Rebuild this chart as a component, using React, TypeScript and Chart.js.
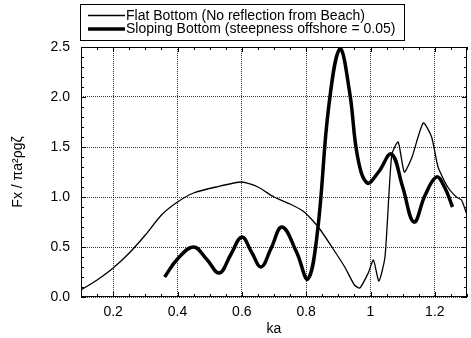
import React, { useEffect, useRef } from "react";
import { Chart, registerables } from "chart.js";

Chart.register(...registerables);

const kaFlat = [0.1, 0.15, 0.2, 0.25, 0.3, 0.35, 0.4, 0.45, 0.52, 0.6, 0.65, 0.7, 0.75, 0.79, 0.81, 0.84, 0.88, 0.92, 0.95, 0.967, 0.993, 1.009, 1.026, 1.045, 1.066, 1.086, 1.105, 1.128, 1.164, 1.19, 1.21, 1.24, 1.267, 1.283, 1.3];
const fFlat = [0.07, 0.17, 0.29, 0.44, 0.62, 0.82, 0.95, 1.04, 1.1, 1.15, 1.1, 1.0, 0.93, 0.86, 0.8, 0.69, 0.5, 0.3, 0.12, 0.09, 0.24, 0.37, 0.16, 0.4, 1.42, 1.55, 1.25, 1.39, 1.74, 1.6, 1.3, 1.1, 1.0, 0.97, 0.82];

const kaSloping = [0.36, 0.4, 0.45, 0.49, 0.53, 0.565, 0.6, 0.63, 0.66, 0.69, 0.725, 0.77, 0.805, 0.835, 0.87, 0.905, 0.935, 0.96, 0.99, 1.025, 1.065, 1.1, 1.135, 1.17, 1.205, 1.23, 1.255];
const fSloping = [0.2, 0.38, 0.5, 0.38, 0.24, 0.42, 0.6, 0.45, 0.3, 0.48, 0.7, 0.45, 0.18, 0.65, 1.9, 2.48, 2.05, 1.4, 1.14, 1.25, 1.43, 1.1, 0.75, 1.02, 1.2, 1.1, 0.9];

const xTicks = [0.2, 0.4, 0.6, 0.8, 1, 1.2];
const yTicks = [0, 0.5, 1, 1.5, 2, 2.5];
const xLabels = ["0.2", "0.4", "0.6", "0.8", "1", "1.2"];
const yLabels = ["0.0", "0.5", "1.0", "1.5", "2.0", "2.5"];

const labelFlat = "Flat Bottom (No reflection from Beach)";
const labelSloping = "Sloping Bottom (steepness offshore = 0.05)";

const FONT = "'Liberation Sans', Arial, Helvetica, sans-serif";

const framePlugin = {
  id: "frameTicks",
  afterDatasetsDraw(chart: any) {
    const { ctx, chartArea } = chart;
    const xs = chart.scales.x;
    const ys = chart.scales.y;
    const { left, right, top, bottom } = chartArea;
    ctx.save();
    ctx.strokeStyle = "#000";
    ctx.lineWidth = 1;
    ctx.setLineDash([]);
    ctx.strokeRect(left + 0.5, top + 0.5, right - left - 1, bottom - top - 1);
    ctx.beginPath();
    for (let i = 2; i <= 26; i++) {
      const v = i * 0.05;
      const px = Math.round(xs.getPixelForValue(v)) + 0.5;
      const major = i % 4 === 0;
      const len = major ? 5 : 3;
      ctx.moveTo(px, bottom);
      ctx.lineTo(px, bottom - len);
      ctx.moveTo(px, top);
      ctx.lineTo(px, top + len);
    }
    for (let i = 0; i <= 25; i++) {
      const v = i * 0.1;
      const py = Math.round(ys.getPixelForValue(v)) + 0.5;
      const major = i % 5 === 0;
      const len = major ? 5 : 3;
      ctx.moveTo(left, py);
      ctx.lineTo(left + len, py);
      ctx.moveTo(right, py);
      ctx.lineTo(right - len, py);
    }
    ctx.stroke();
    ctx.restore();
  },
  afterDraw(chart: any) {
    const { ctx } = chart;
    const ds = chart.data.datasets;
    ctx.save();
    ctx.strokeStyle = "#000";
    ctx.lineWidth = 1;
    ctx.setLineDash([]);
    ctx.strokeRect(80.5, 4.5, 324, 36);
    ctx.font = "14px " + FONT;
    ctx.fillStyle = "#000";
    ctx.textBaseline = "middle";
    ctx.textAlign = "left";
    const rows = [15.5, 29];
    ds.forEach((d: any, i: number) => {
      ctx.lineWidth = d.borderWidth;
      ctx.beginPath();
      ctx.moveTo(88, rows[i]);
      ctx.lineTo(125, rows[i]);
      ctx.stroke();
      ctx.fillText(d.label, 126, rows[i] + 0.5);
    });
    ctx.restore();
  },
};

export default function App() {
  const ref = useRef<HTMLCanvasElement>(null);
  useEffect(() => {
    if (!ref.current) return;
    const chart = new Chart(ref.current, {
      type: "line",
      data: {
        datasets: [
          {
            label: labelFlat,
            data: kaFlat.map((x, i) => ({ x, y: fFlat[i] })),
            borderColor: "#000",
            borderWidth: 1.3,
            pointRadius: 0,
            tension: 0.2,
            fill: false,
          },
          {
            label: labelSloping,
            data: kaSloping.map((x, i) => ({ x, y: fSloping[i] })),
            borderColor: "#000",
            borderWidth: 3.5,
            pointRadius: 0,
            tension: 0.4,
            fill: false,
          },
        ],
      },
      options: {
        responsive: false,
        animation: false,
        layout: { padding: { left: 0, top: 47, right: 4, bottom: 0 } },
        plugins: { legend: { display: false }, tooltip: { enabled: false } },
        scales: {
          x: {
            type: "linear",
            min: 0.1,
            max: 1.3,
            afterBuildTicks: (s: any) => {
              s.ticks = xTicks.map((v) => ({ value: v }));
            },
            afterFit: (s: any) => {
              s.height = 41;
            },
            ticks: {
              autoSkip: false,
              maxRotation: 0,
              padding: 7,
              color: "#000",
              font: { family: FONT, size: 14 },
              callback: (v: any) => xLabels[xTicks.indexOf(Number(v))] ?? "",
            },
            grid: { color: "#333", lineWidth: 1, drawTicks: false },
            border: { display: false, dash: [1, 1] },
            title: {
              display: true,
              text: "ka",
              color: "#000",
              font: { family: FONT, size: 14 },
              padding: { top: 0, bottom: 0 },
            },
          },
          y: {
            type: "linear",
            min: 0,
            max: 2.5,
            afterBuildTicks: (s: any) => {
              s.ticks = yTicks.map((v) => ({ value: v }));
            },
            afterFit: (s: any) => {
              s.width = 81;
            },
            ticks: {
              padding: 11,
              color: "#000",
              font: { family: FONT, size: 14 },
              callback: (v: any) => yLabels[yTicks.indexOf(Number(v))] ?? "",
            },
            grid: { color: "#333", lineWidth: 1, drawTicks: false },
            border: { display: false, dash: [1, 1] },
            title: {
              display: true,
              text: "Fx / πa²ρgζ",
              color: "#000",
              font: { family: FONT, size: 14 },
              padding: { top: 10, bottom: 0 },
            },
          },
        },
      },
      plugins: [framePlugin],
    } as any);
    return () => chart.destroy();
  }, []);
  return (
    <div style={{ position: "absolute", left: 0, top: 0, width: 471, height: 338, background: "#fff" }}>
      <canvas ref={ref} width={471} height={338} />
    </div>
  );
}
